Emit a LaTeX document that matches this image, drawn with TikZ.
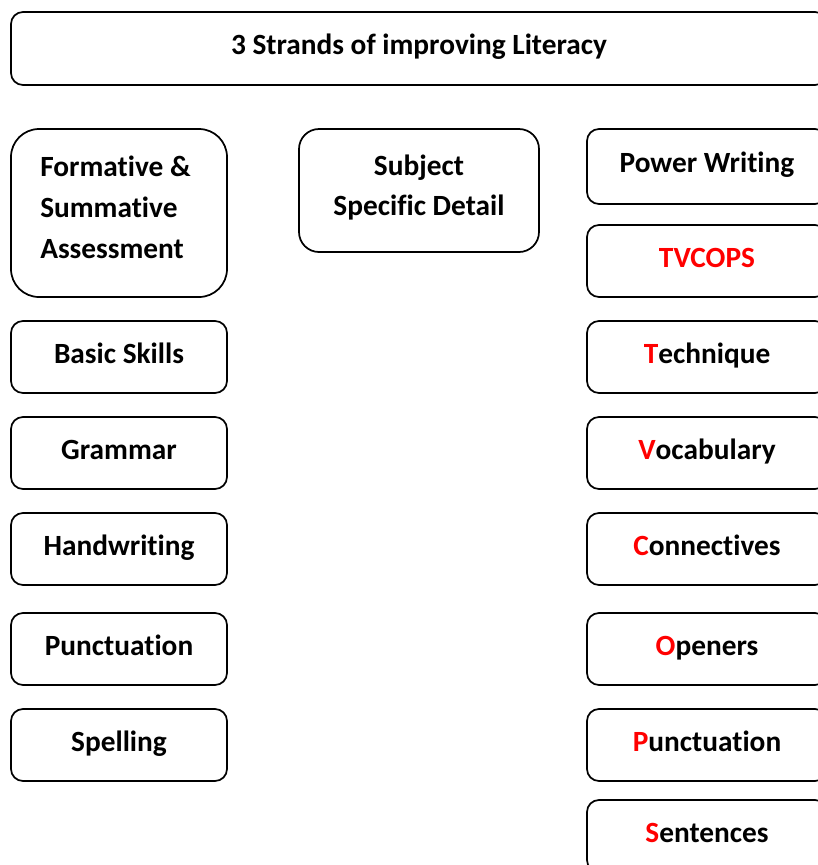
\documentclass[tikz,border=0pt]{standalone}
\usepackage{fontspec}
\setmainfont{Carlito}[RawFeature={-liga;-clig;-dlig}]
\definecolor{tvred}{RGB}{255,0,0}
\begin{document}
\begin{tikzpicture}[x=0.75pt,y=-0.75pt,
  font=\fontsize{22}{30.75}\selectfont\bfseries,
  box/.style={draw=black, line width=1.3pt, rounded corners=9pt, fill=white,
    inner sep=0pt, minimum height=54pt, text height=14pt, text depth=5pt},
  lbox/.style={box, minimum width=162pt},
  rbox/.style={box, minimum width=180pt},
  txt/.style={inner sep=0pt, anchor=base}]
\useasboundingbox (0,0) rectangle (818,865);
\fill[white] (0,0) rectangle (818,865);
\clip (0,0) rectangle (818,865);
% title
\node[box, minimum width=612pt, minimum height=54.75pt] (title) at (419,48.5) {3 Strands of improving Literacy};
% column 1
\node[box, minimum width=162pt, minimum height=126pt, rounded corners=21pt] (fsa) at (119,213) {};
\node[txt, anchor=base west, align=left] (fsatext) at (40,258) {Formative \&\\Summative\\Assessment};
\node[lbox] (basic) at (119,357) {Basic Skills};
\node[lbox] (grammar) at (119,453) {Grammar};
\node[lbox] (hand) at (119,549) {Handwriting};
\node[lbox] (punct) at (119,649) {Punctuation};
\node[lbox] (spell) at (119,745) {Spelling};
% column 2
\node[box, minimum width=180pt, minimum height=92.25pt, rounded corners=15pt] (ssd) at (419,190.5) {};
\node[txt, anchor=base, align=center, font=\fontsize{22}{30}\selectfont\bfseries] (ssdtext) at (419,215) {Subject\\Specific Detail};
% column 3
\node[rbox, minimum height=56.25pt] (power) at (707,166.5) {Power Writing};
\node[rbox] (tvcops) at (707,261) {\textcolor{tvred}{TVCOPS}};
\node[rbox] (tech) at (707,357) {\textcolor{tvred}{T}echnique};
\node[rbox] (vocab) at (707,453) {\textcolor{tvred}{V}ocabulary};
\node[rbox] (conn) at (707,549) {\textcolor{tvred}{C}onnectives};
\node[rbox] (open) at (707,649) {\textcolor{tvred}{O}peners};
\node[rbox] (punc2) at (707,745) {\textcolor{tvred}{P}unctuation};
\node[rbox] (sent) at (707,836) {\textcolor{tvred}{S}entences};
\end{tikzpicture}
\end{document}
